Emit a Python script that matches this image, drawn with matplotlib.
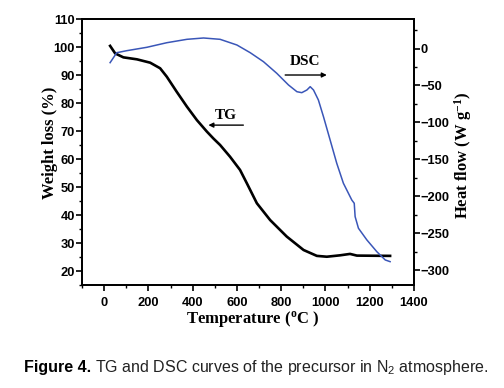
import matplotlib
matplotlib.use("Agg")
import matplotlib.pyplot as plt
from matplotlib.ticker import MultipleLocator
from matplotlib.font_manager import FontProperties

plt.rcParams['mathtext.fontset'] = 'custom'
plt.rcParams['mathtext.rm'] = 'Liberation Serif'
plt.rcParams['mathtext.bf'] = 'Liberation Serif:bold'
plt.rcParams['mathtext.it'] = 'Liberation Serif:italic'

# TG curve (weight loss %, left axis)
tg_temp = [27, 50, 87, 148, 208, 253, 283, 328, 374, 419, 464, 494, 524, 569,
           614, 645, 690, 750, 825, 901, 961, 1006, 1066, 1111, 1142, 1292]
tg_val = [100.4, 97.7, 96.3, 95.6, 94.4, 92.4, 89.4, 84.0, 78.7, 73.9, 69.8,
          67.3, 65.0, 60.8, 56.1, 51.3, 44.2, 38.2, 32.3, 27.5, 25.4, 25.1,
          25.6, 26.1, 25.5, 25.4]

# DSC curve (heat flow W/g, right axis)
dsc_temp = [27, 57, 102, 193, 283, 374, 449, 524, 600, 660, 720, 780, 833, 871,
            893, 916, 931, 946, 968, 991, 1021, 1051, 1081, 1119, 1130, 1134,
            1149, 1187, 1232, 1270, 1292]
dsc_val = [-19.1, -5.6, -2.9, 1.7, 7.9, 12.5, 14.3, 12.5, 4.8, -5.6, -17.8,
           -33.5, -49.3, -58.4, -59.7, -56.1, -51.6, -56.1, -69.6, -92.2,
           -123.7, -155.3, -182.3, -205, -209.4, -227.5, -243.2, -259, -274.9,
           -286.1, -288.4]

x_ticks = [0, 200, 400, 600, 800, 1000, 1200, 1400]
left_ticks = [20, 30, 40, 50, 60, 70, 80, 90, 100, 110]
right_ticks = [-300, -250, -200, -150, -100, -50, 0]

W, H = 504, 388
fig = plt.figure(figsize=(W / 100, H / 100), dpi=100)
ax = fig.add_axes([82 / W, 1 - 285 / H, (414 - 82) / W, (285 - 19) / H])
ax2 = ax.twinx()

ax.plot(tg_temp, tg_val, color='black', lw=1.9, solid_joinstyle='round')
ax2.plot(dsc_temp, dsc_val, color='#3a56b8', lw=1.1, solid_joinstyle='round')

ax.set_xlim(-100, 1400)
ax.set_ylim(15, 110)
ax2.set_ylim(-320, 40)

ax.set_xticks(x_ticks)
ax.set_yticks(left_ticks)
ax2.set_yticks(right_ticks)
ax.xaxis.set_minor_locator(MultipleLocator(100))
ax.yaxis.set_minor_locator(MultipleLocator(5))
ax2.yaxis.set_minor_locator(MultipleLocator(25))

tickfp = FontProperties(family='Liberation Sans', weight='bold', size=9.3)
for a in (ax, ax2):
    for lab in a.get_xticklabels() + a.get_yticklabels():
        lab.set_fontproperties(tickfp)
    for s in a.spines.values():
        s.set_linewidth(1.3)

ax.tick_params(axis='x', which='major', direction='out', length=4, width=1.2, pad=5, top=False)
ax.tick_params(axis='x', which='minor', direction='out', length=2.5, width=1.0, top=False)
ax.tick_params(axis='y', which='major', direction='out', length=4, width=1.2, pad=1)
ax.tick_params(axis='y', which='minor', direction='out', length=2.5, width=1.0)
ax2.tick_params(axis='y', which='major', direction='out', length=4, width=1.2, pad=1)
ax2.tick_params(axis='y', which='minor', direction='out', length=2.5, width=1.0)

labfont = dict(family='Liberation Serif', weight='bold', size=12)
ax.set_xlabel(r'Temperature ($^\mathbf{o}$C )', **labfont)
ax.xaxis.set_label_coords((253 - 82) / 332, (285 - 309) / 266)
ax.set_ylabel('Weight loss (%)', **labfont)
ax.yaxis.set_label_coords((58 - 82) / 332, (285 - 143) / 266)
ax2.set_ylabel(r'Heat flow (W g$^\mathbf{-1}$)', rotation=90, **labfont)
ax2.yaxis.set_label_coords((452 - 82) / 332, (285 - 155) / 266)

annfont = dict(family='Liberation Serif', weight='bold', size=11)
ax.text(551, 75.7, 'TG', ha='center', va='center', **annfont)
ax.annotate('', xy=(471, 72.1), xytext=(629, 72.1),
            arrowprops=dict(arrowstyle='-|>', color='black', lw=1.0,
                            mutation_scale=7, shrinkA=0, shrinkB=0))
ax2.text(906, -17.8, 'DSC', ha='center', va='center', **annfont)
ax2.annotate('', xy=(1006, -35.8), xytext=(818, -35.8),
             arrowprops=dict(arrowstyle='-|>', color='black', lw=1.0,
                             mutation_scale=7, shrinkA=0, shrinkB=0))

# caption
capfont = dict(family='Liberation Sans', size=11.5)
t1 = fig.text(24 / W, 1 - 372 / H, 'Figure 4.', weight='bold', va='baseline', **capfont)
fig.canvas.draw()
bb = t1.get_window_extent()
x2 = (bb.x1 + 4) / W
plt.rcParams['mathtext.rm'] = 'Liberation Sans'
fig.text(x2, 1 - 372 / H, r'TG and DSC curves of the precursor in N$_\mathregular{2}$ atmosphere.',
         va='baseline', color='#222222', **capfont)

fig.savefig('out.png', dpi=100)
